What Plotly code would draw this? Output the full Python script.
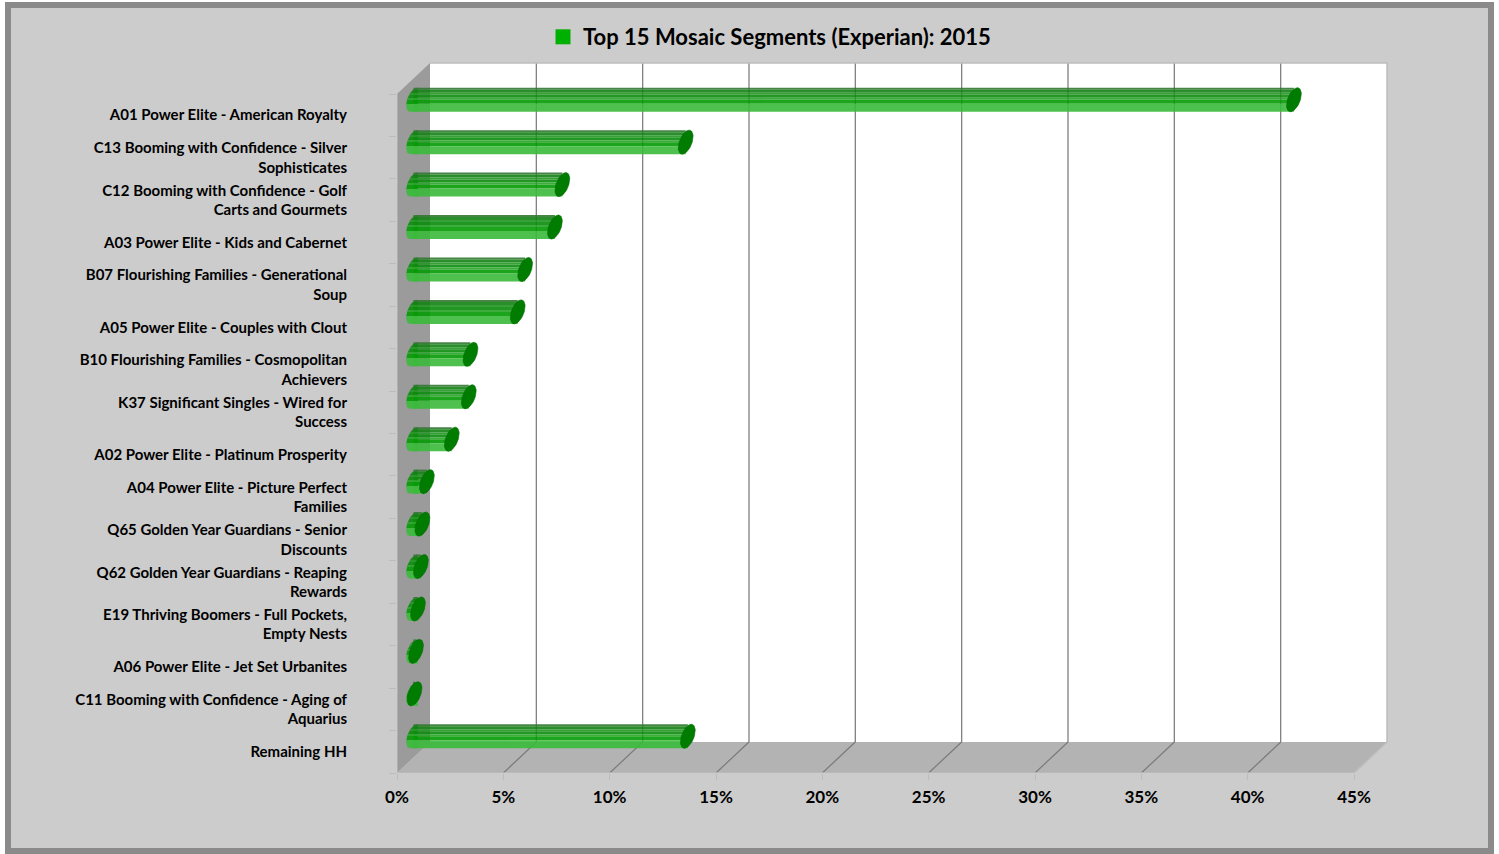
import numpy as np
import plotly.graph_objects as go

# ---- data -------------------------------------------------------------
segments = [
    "A01 Power Elite - American Royalty",
    "C13 Booming with Confidence - Silver<br>Sophisticates",
    "C12 Booming with Confidence - Golf<br>Carts and Gourmets",
    "A03 Power Elite - Kids and Cabernet",
    "B07 Flourishing Families - Generational<br>Soup",
    "A05 Power Elite - Couples with Clout",
    "B10 Flourishing Families - Cosmopolitan<br>Achievers",
    "K37 Significant Singles - Wired for<br>Success",
    "A02 Power Elite - Platinum Prosperity",
    "A04 Power Elite - Picture Perfect<br>Families",
    "Q65 Golden Year Guardians - Senior<br>Discounts",
    "Q62 Golden Year Guardians - Reaping<br>Rewards",
    "E19 Thriving Boomers - Full Pockets,<br>Empty Nests",
    "A06 Power Elite - Jet Set Urbanites",
    "C11 Booming with Confidence - Aging of<br>Aquarius",
    "Remaining HH",
]
shares = [41.4, 12.8, 7.0, 6.65, 5.25, 4.9, 2.68, 2.6, 1.8,
          0.63, 0.42, 0.35, 0.21, 0.12, 0.05, 12.9]
pct_ticks = [0, 5, 10, 15, 20, 25, 30, 35, 40, 45]
pct_labels = [f"{t}%" for t in pct_ticks]
series_name = "Top 15 Mosaic Segments (Experian): 2015"

# ---- page geometry (pixels) --------------------------------------------
W, H = 1499, 854
PL, PR, PT, PB = 397, 1395, 55, 773          # plot area edges
PX_PER_PCT = (1354 - 397) / 45.0              # front-plane x scale
N = len(segments)
ROW_PX = (773 - 94) / N                       # front-plane row pitch
DEPTH_X, DEPTH_Y = 33, 31                     # 3-D depth offset in px

XMAX = (PR - PL) / PX_PER_PCT
YMIN = -0.5
YMAX = YMIN + (PB - PT) / ROW_PX
DX = DEPTH_X / PX_PER_PCT
DY = DEPTH_Y / ROW_PX
TOP = N - 0.5                                 # top of the front plane
FMAX = pct_ticks[-1]

rows = np.arange(N)[::-1]                     # first segment at the top
bar_y = rows + DY / 2                         # bars sit half-way in depth
bar_base = DX / 2

def paper_x(px):
    return (px - PL) / (PR - PL)

def paper_y(py):
    return (PB - py) / (PB - PT)

FONT = "Lato"
GREEN_CAP = "rgb(0,125,0)"

fig = go.Figure()

# ---- cylinder bodies: horizontal bands give the rounded shading -----------
BAR_PX = 24
bands = [  # (top px, bottom px, colour) measured from the top of the bar
    (0, 2, "rgb(50,120,50)"),
    (2, 5, "rgb(20,130,20)"),
    (5, 7, "rgb(35,150,35)"),
    (7, 10, "rgb(12,140,12)"),
    (10, 12, "rgb(40,165,40)"),
    (12, 16, "rgb(5,155,5)"),
    (16, 24, "rgb(58,186,58)"),
]
for top_px, bot_px, col in bands:
    centre_off = (BAR_PX / 2 - (top_px + bot_px) / 2) / ROW_PX
    fig.add_trace(go.Bar(
        orientation="h",
        x=shares,
        y=bar_y + centre_off,
        base=bar_base,
        width=(bot_px - top_px) / ROW_PX,
        marker=dict(color=col, line=dict(width=0)),
        opacity=0.9,
        showlegend=False,
        hoverinfo="skip",
    ))

# ---- cylinder ends (sheared ellipses) -------------------------------------
A_PX, B_PX, S_PX = 6.5, BAR_PX / 2, 3.5
band_scale = []
for top_px, bot_px, col in reversed(bands):
    f0 = 1 - bot_px / BAR_PX
    f1 = 1 - top_px / BAR_PX
    band_scale += [[f0, col], [f1, col]]
band_scale[0][0] = 0.0
band_scale[-1][0] = 1.0


def ellipse(cx, cy, t):
    ex = cx + (A_PX * np.cos(t) + S_PX * np.sin(t)) / PX_PER_PCT
    ey = cy + (B_PX * np.sin(t)) / ROW_PX
    return ex, ey


# rounded left ends
for yc in bar_y:
    t = np.linspace(np.pi / 2, 3 * np.pi / 2, 40)
    ex, ey = ellipse(bar_base, yc, t)
    ex = np.concatenate([ex, [bar_base + (S_PX + 1) / PX_PER_PCT] * 2, [ex[0]]])
    ey = np.concatenate([ey, [ey[-1], ey[0]], [ey[0]]])
    fig.add_trace(go.Scatter(
        x=ex, y=ey, mode="lines", line=dict(width=0),
        fill="toself",
        fillgradient=dict(type="vertical", colorscale=band_scale),
        opacity=0.9, showlegend=False, hoverinfo="skip",
    ))

# end caps at each value
cap_x, cap_y = [], []
for v, yc in zip(shares, bar_y):
    t = np.linspace(0, 2 * np.pi, 60)
    ex, ey = ellipse(bar_base + v, yc, t)
    cap_x += list(ex) + [None]
    cap_y += list(ey) + [None]
fig.add_trace(go.Scatter(
    x=cap_x, y=cap_y, mode="lines",
    line=dict(width=0.6, color="rgb(0,105,0)"),
    fill="toself", fillcolor=GREEN_CAP,
    showlegend=False, hoverinfo="skip",
))

# legend entry
fig.add_trace(go.Scatter(
    x=[None], y=[None], mode="markers", name=series_name,
    marker=dict(symbol="square", size=15, color="rgb(0,176,0)"),
))

# ---- 3-D walls, floor and gridlines --------------------------------------
shapes = []
# outer frame
shapes.append(dict(type="rect", xref="paper", yref="paper", layer="below",
                   x0=paper_x(8), x1=paper_x(1491), y0=paper_y(851), y1=paper_y(5),
                   fillcolor="#cccccc", line=dict(color="#8a8a8a", width=6)))
# back wall
shapes.append(dict(type="rect", xref="x", yref="y", layer="below",
                   x0=DX, x1=FMAX + DX, y0=YMIN + DY, y1=TOP + DY,
                   fillcolor="white", line=dict(width=0)))
# left side wall
shapes.append(dict(type="path", xref="x", yref="y", layer="below",
                   path=f"M 0,{YMIN} L {DX},{YMIN + DY} L {DX},{TOP + DY} L 0,{TOP} Z",
                   fillcolor="#9b9b9b", line=dict(width=0)))
# floor
shapes.append(dict(type="path", xref="x", yref="y", layer="below",
                   path=(f"M 0,{YMIN} L {FMAX},{YMIN} L {FMAX + DX},{YMIN + DY} "
                         f"L {DX},{YMIN + DY} Z"),
                   fillcolor="#b3b3b3", line=dict(width=0)))
# gridlines on the back wall and matching floor diagonals
for v in pct_ticks[1:-1]:
    shapes.append(dict(type="line", xref="x", yref="y", layer="below",
                       x0=v + DX, x1=v + DX, y0=YMIN + DY, y1=TOP + DY,
                       line=dict(color="#808080", width=1.3)))
    shapes.append(dict(type="line", xref="x", yref="y", layer="below",
                       x0=v, x1=v + DX, y0=YMIN, y1=YMIN + DY,
                       line=dict(color="#7a7a7a", width=1.2)))
# light outline of the back wall and far floor edge
shapes.append(dict(type="path", xref="x", yref="y", layer="below",
                   path=(f"M {DX},{TOP + DY} L {FMAX + DX},{TOP + DY} "
                         f"L {FMAX + DX},{YMIN + DY} L {FMAX},{YMIN}"),
                   line=dict(color="#bdbdbd", width=1.5)))
# front axis lines
shapes.append(dict(type="path", xref="x", yref="y", layer="below",
                   path=f"M 0,{TOP} L 0,{YMIN} L {FMAX},{YMIN}",
                   line=dict(color="#bcbcbc", width=1.3)))

fig.update_layout(
    width=W, height=H,
    margin=dict(l=PL, r=W - PR, t=PT, b=H - PB, autoexpand=False),
    paper_bgcolor="white",
    plot_bgcolor="rgba(0,0,0,0)",
    barmode="overlay",
    shapes=shapes,
    showlegend=True,
    legend=dict(
        orientation="h", x=paper_x(543), y=paper_y(37),
        xanchor="left", yanchor="middle",
        bgcolor="rgba(0,0,0,0)",
        font=dict(family=FONT, size=22, color="#000000", weight="bold"),
    ),
    xaxis=dict(
        range=[0, XMAX], showgrid=False, zeroline=False, showline=False,
        tickmode="array", tickvals=pct_ticks, ticktext=pct_labels,
        ticks="outside", ticklen=6, tickwidth=1.3, tickcolor="#bcbcbc",
        ticklabelstandoff=3,
        tickfont=dict(family=FONT, size=17, color="#000000", weight="bold"),
        fixedrange=True,
    ),
    yaxis=dict(
        range=[YMIN, YMAX], showgrid=False, zeroline=False, showline=False,
        tickmode="array", tickvals=list(rows), ticktext=segments, ticks="",
        ticklabelstandoff=49,
        minor=dict(tickmode="array", tickvals=[r - 0.5 for r in range(N + 1)],
                   ticks="outside", ticklen=7, tickwidth=1.3, tickcolor="#bcbcbc",
                   showgrid=False),
        tickfont=dict(family=FONT, size=15, color="#000000", weight="bold"),
        fixedrange=True,
    ),
)

fig.write_html("out.html")
